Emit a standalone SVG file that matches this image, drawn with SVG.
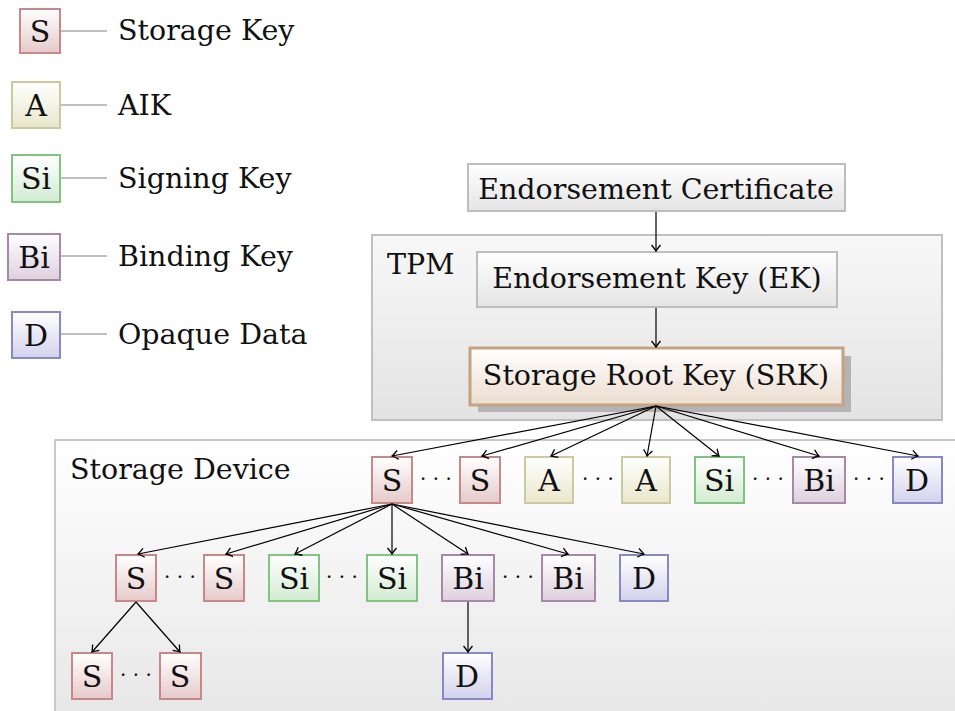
<svg xmlns="http://www.w3.org/2000/svg" width="955" height="711" viewBox="0 0 955 711">
<defs>
<linearGradient id="gS" x1="0" y1="0" x2="0" y2="1"><stop offset="0" stop-color="#ffffff"/><stop offset="1" stop-color="#e6caca"/></linearGradient>
<linearGradient id="gA" x1="0" y1="0" x2="0" y2="1"><stop offset="0" stop-color="#ffffff"/><stop offset="1" stop-color="#e8e7cc"/></linearGradient>
<linearGradient id="gSi" x1="0" y1="0" x2="0" y2="1"><stop offset="0" stop-color="#ffffff"/><stop offset="1" stop-color="#d2ebd2"/></linearGradient>
<linearGradient id="gBi" x1="0" y1="0" x2="0" y2="1"><stop offset="0" stop-color="#ffffff"/><stop offset="1" stop-color="#ddd0de"/></linearGradient>
<linearGradient id="gD" x1="0" y1="0" x2="0" y2="1"><stop offset="0" stop-color="#ffffff"/><stop offset="1" stop-color="#d2d2ec"/></linearGradient>
<linearGradient id="gG" x1="0" y1="0" x2="0" y2="1"><stop offset="0" stop-color="#ffffff"/><stop offset="1" stop-color="#e4e4e4"/></linearGradient>
<linearGradient id="gSRK" x1="0" y1="0" x2="0" y2="1"><stop offset="0" stop-color="#ffffff"/><stop offset="1" stop-color="#ecdccf"/></linearGradient>
<linearGradient id="gTPM" x1="0" y1="0" x2="0" y2="1"><stop offset="0" stop-color="#f8f8f8"/><stop offset="1" stop-color="#e3e3e3"/></linearGradient>
<linearGradient id="gSD" x1="0" y1="0" x2="0" y2="1"><stop offset="0" stop-color="#ffffff"/><stop offset="1" stop-color="#e6e6e6"/></linearGradient>
<marker id="arr" markerUnits="userSpaceOnUse" markerWidth="14" markerHeight="14" viewBox="-8 -7 10 14" refX="0" refY="0" orient="auto">
<path d="M -6 -4.5 Q -1.5 -0.8 0 0 Q -1.5 0.8 -6 4.5" fill="none" stroke="#000" stroke-width="1.3"/>
</marker>
</defs>
<style>
text{font-family:"DejaVu Serif","Liberation Serif",serif;font-size:28.5px;fill:#111}
.c{text-anchor:middle}
.k{font-size:30px}
.dots{font-size:20px;text-anchor:middle}
.S{fill:url(#gS);stroke:#c98888;stroke-width:2}
.A{fill:url(#gA);stroke:#ccc9a0;stroke-width:2}
.Si{fill:url(#gSi);stroke:#80c480;stroke-width:2}
.Bi{fill:url(#gBi);stroke:#a888a8;stroke-width:2}
.D{fill:url(#gD);stroke:#8888c8;stroke-width:2}
.G{fill:url(#gG);stroke:#bdbdbd;stroke-width:2}
.leg{stroke:#aaaaaa;stroke-width:1.5;fill:none}
.ed{stroke:#000;stroke-width:1.2;fill:none;marker-end:url(#arr)}
</style>

<!-- containers -->
<g id="tpm">
<rect x="372" y="235" width="570" height="185" fill="url(#gTPM)" stroke="#c0c0c0" stroke-width="2"/>
<text x="387" y="274">TPM</text>
</g>
<g id="storage-device">
<rect x="55" y="440" width="910" height="290" fill="url(#gSD)" stroke="#c8c8c8" stroke-width="2"/>
<text x="70" y="479">Storage Device</text>
</g>

<!-- legend -->
<g id="legend-S"><rect class="S" x="20" y="9" width="40" height="44"/><text class="c k" x="40" y="42">S</text><line class="leg" x1="61" y1="31" x2="107" y2="31"/><text x="118" y="40">Storage Key</text></g>
<g id="legend-A"><rect class="A" x="12" y="82" width="48" height="46"/><text class="c k" x="36" y="116">A</text><line class="leg" x1="61" y1="105" x2="107" y2="105"/><text x="118" y="115">AIK</text></g>
<g id="legend-Si"><rect class="Si" x="12" y="155" width="48" height="47"/><text class="c k" x="36" y="189">Si</text><line class="leg" x1="61" y1="178" x2="107" y2="178"/><text x="118" y="188">Signing Key</text></g>
<g id="legend-Bi"><rect class="Bi" x="8" y="234" width="52" height="46"/><text class="c k" x="34" y="268">Bi</text><line class="leg" x1="61" y1="256" x2="107" y2="256"/><text x="118" y="266">Binding Key</text></g>
<g id="legend-D"><rect class="D" x="12" y="312" width="48" height="46"/><text class="c k" x="36" y="346">D</text><line class="leg" x1="61" y1="334" x2="107" y2="334"/><text x="118" y="344">Opaque Data</text></g>

<!-- top nodes -->
<g id="cert"><rect class="G" x="468" y="164" width="377" height="47"/><text class="c" x="656" y="199">Endorsement Certificate</text></g>
<g id="ek"><rect class="G" x="477" y="252" width="360" height="55"/><text class="c" x="657" y="288">Endorsement Key (EK)</text></g>
<g id="srk"><rect x="478" y="356" width="373" height="56" fill="#b4b4b4"/><rect x="470" y="348" width="373" height="57" fill="url(#gSRK)" stroke="#c4a282" stroke-width="3"/><text class="c" x="656" y="385">Storage Root Key (SRK)</text></g>

<!-- row 1 -->
<g id="r1-S1"><rect class="S" x="372" y="457" width="40" height="46"/><text class="c k" x="392" y="491">S</text></g>
<g id="r1-S2"><rect class="S" x="460" y="457" width="40" height="46"/><text class="c k" x="480" y="491">S</text></g>
<g id="r1-A1"><rect class="A" x="525" y="457" width="48" height="46"/><text class="c k" x="549" y="491">A</text></g>
<g id="r1-A2"><rect class="A" x="622" y="457" width="48" height="46"/><text class="c k" x="646" y="491">A</text></g>
<g id="r1-Si"><rect class="Si" x="695" y="457" width="49" height="46"/><text class="c k" x="719" y="491">Si</text></g>
<g id="r1-Bi"><rect class="Bi" x="793" y="457" width="52" height="46"/><text class="c k" x="819" y="491">Bi</text></g>
<g id="r1-D"><rect class="D" x="893" y="457" width="49" height="46"/><text class="c k" x="917" y="491">D</text></g>
<text class="dots" x="436" y="486">· · ·</text>
<text class="dots" x="598" y="486">· · ·</text>
<text class="dots" x="768" y="486">· · ·</text>
<text class="dots" x="869" y="486">· · ·</text>

<!-- row 2 -->
<g id="r2-S1"><rect class="S" x="116" y="555" width="40" height="46"/><text class="c k" x="136" y="589">S</text></g>
<g id="r2-S2"><rect class="S" x="204" y="555" width="40" height="46"/><text class="c k" x="224" y="589">S</text></g>
<g id="r2-Si1"><rect class="Si" x="269" y="555" width="50" height="46"/><text class="c k" x="294" y="589">Si</text></g>
<g id="r2-Si2"><rect class="Si" x="367" y="555" width="50" height="46"/><text class="c k" x="392" y="589">Si</text></g>
<g id="r2-Bi1"><rect class="Bi" x="442" y="555" width="52" height="46"/><text class="c k" x="468" y="589">Bi</text></g>
<g id="r2-Bi2"><rect class="Bi" x="542" y="555" width="53" height="46"/><text class="c k" x="568" y="589">Bi</text></g>
<g id="r2-D"><rect class="D" x="620" y="555" width="48" height="46"/><text class="c k" x="644" y="589">D</text></g>
<text class="dots" x="180" y="584">· · ·</text>
<text class="dots" x="342" y="584">· · ·</text>
<text class="dots" x="518" y="584">· · ·</text>

<!-- row 3 -->
<g id="r3-S1"><rect class="S" x="72" y="653" width="40" height="46"/><text class="c k" x="92" y="687">S</text></g>
<g id="r3-S2"><rect class="S" x="160" y="653" width="41" height="46"/><text class="c k" x="180" y="687">S</text></g>
<g id="r3-D"><rect class="D" x="443" y="653" width="49" height="46"/><text class="c k" x="467" y="687">D</text></g>
<text class="dots" x="136" y="682">· · ·</text>

<!-- connectors -->
<g id="connectors">
<line class="ed" x1="656" y1="212" x2="656" y2="251"/>
<line class="ed" x1="656" y1="308" x2="656" y2="347"/>
<line class="ed" x1="656" y1="406" x2="392" y2="456"/>
<line class="ed" x1="656" y1="406" x2="482" y2="456"/>
<line class="ed" x1="656" y1="406" x2="551" y2="456"/>
<line class="ed" x1="656" y1="406" x2="647" y2="456"/>
<line class="ed" x1="656" y1="406" x2="719" y2="456"/>
<line class="ed" x1="656" y1="406" x2="819" y2="456"/>
<line class="ed" x1="656" y1="406" x2="918" y2="456"/>
<line class="ed" x1="392" y1="504" x2="138" y2="554"/>
<line class="ed" x1="392" y1="504" x2="226" y2="554"/>
<line class="ed" x1="392" y1="504" x2="295" y2="554"/>
<line class="ed" x1="392" y1="504" x2="392" y2="554"/>
<line class="ed" x1="392" y1="504" x2="468" y2="554"/>
<line class="ed" x1="392" y1="504" x2="568" y2="554"/>
<line class="ed" x1="392" y1="504" x2="644" y2="554"/>
<line class="ed" x1="136" y1="602" x2="92" y2="652"/>
<line class="ed" x1="136" y1="602" x2="180" y2="652"/>
<line class="ed" x1="468" y1="602" x2="468" y2="652"/>
</g>
</svg>
